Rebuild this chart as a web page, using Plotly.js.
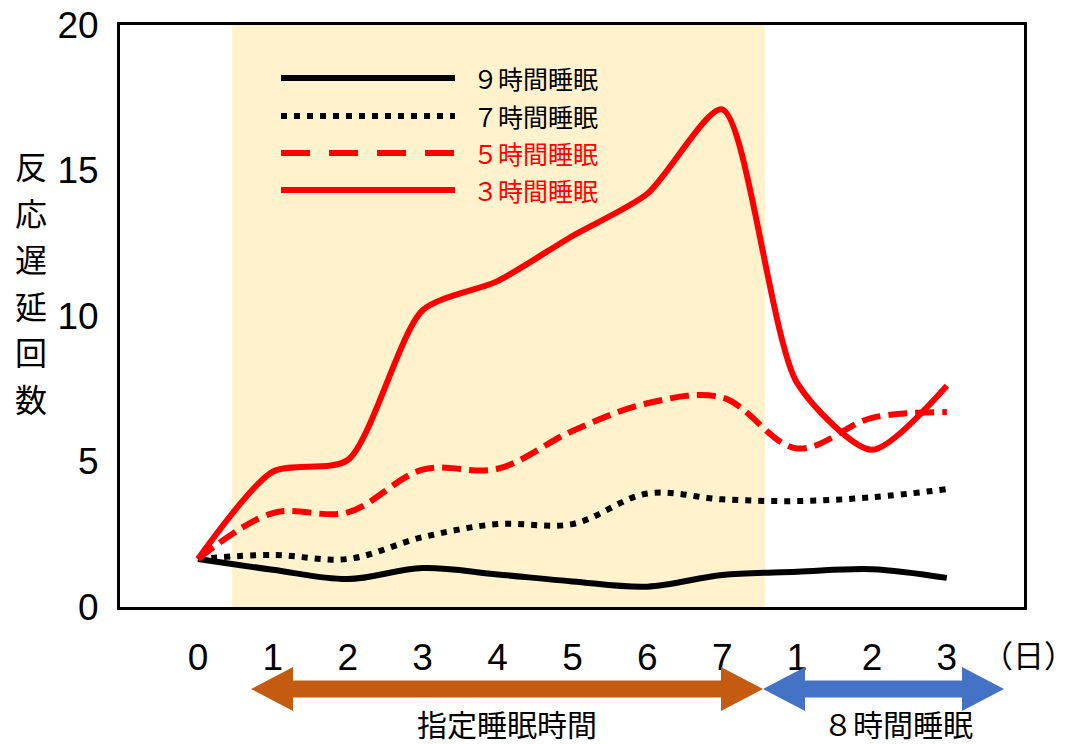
<!DOCTYPE html>
<html><head><meta charset="utf-8">
<script src="https://cdn.plot.ly/plotly-3.0.1.min.js"></script>
<style>body{margin:0;background:#fff}</style>
</head><body><div id="chart" style="width:1079px;height:744px"></div>
<script>
// ---- data ----
const days = [0, 1, 2, 3, 4, 5, 6, 7, 8, 9, 10];
const dayLabels = ['0', '1', '2', '3', '4', '5', '6', '7', '1', '2', '3'];
const sleep9h = [1.65, 1.28, 0.96, 1.34, 1.12, 0.88, 0.70, 1.10, 1.21, 1.30, 1.00];
const sleep7h = [1.65, 1.79, 1.65, 2.40, 2.85, 2.85, 3.90, 3.70, 3.64, 3.77, 4.05];
const sleep5h = [1.65, 3.23, 3.25, 4.72, 4.75, 6.05, 7.00, 7.20, 5.45, 6.50, 6.70];
const sleep3h = [1.65, 4.65, 5.05, 10.20, 11.20, 12.75, 14.20, 17.10, 7.70, 5.40, 7.60];
const seriesNames = ['９時間睡眠', '７時間睡眠', '５時間睡眠', '３時間睡眠'];
const yTicks = [0, 5, 10, 15, 20];
const yTitle = '反応遅延回数';
const unitLabel = '（日）';
const periodLabels = ['指定睡眠時間', '８時間睡眠'];
const restrictedPeriod = [0.454, 7.57];

// ---- layout helpers ----
const W = 1079, H = 744;
const M = {l: 120, r: 55, t: 25, b: 137};
const PW = W - M.l - M.r, PH = H - M.t - M.b;
const fx = p => (p - M.l) / PW;        // pixel x -> paper x
const fy = p => (H - M.b - p) / PH;    // pixel y -> paper y
const FONT = 'Liberation Sans, Arial, Noto Sans CJK JP, sans-serif';
const JFONT = 'Noto Sans CJK JP, Liberation Sans, sans-serif';

const styles = [
  {color: '#000000', dash: 'solid', legDash: 'solid', smooth: 1},
  {color: '#000000', dash: '6px,7px', legDash: '6px,7px', smooth: 1},
  {color: '#ff0000', dash: '19px,8px', legDash: '29px,19px', smooth: 1},
  {color: '#ff0000', dash: 'solid', legDash: 'solid', smooth: 0.7}
];
const seriesData = [sleep9h, sleep7h, sleep5h, sleep3h];

const traces = seriesData.map((ys, i) => ({
  x: days, y: ys, type: 'scatter', mode: 'lines', name: seriesNames[i],
  line: {color: styles[i].color, width: 6, dash: styles[i].dash, shape: 'spline', smoothing: styles[i].smooth},
  hoverinfo: 'skip', showlegend: false
}));

const shapes = [
  {type: 'rect', xref: 'x', yref: 'paper', x0: restrictedPeriod[0], x1: restrictedPeriod[1], y0: 0, y1: 1,
   fillcolor: '#fff2cc', line: {width: 0}, layer: 'below'}
];
const annotations = [];
function label(px, py, text, size, color, xanchor) {
  annotations.push({xref: 'paper', yref: 'paper', x: fx(px), y: fy(py), xanchor: xanchor || 'center', yanchor: 'middle',
    text: text, showarrow: false, font: {family: JFONT, size: size, color: color || '#000'}});
}

// manual legend
const legRows = [78, 116, 153, 190];
seriesNames.forEach((n, i) => {
  shapes.push({type: 'line', xref: 'paper', yref: 'paper', x0: fx(281), x1: fx(455), y0: fy(legRows[i]), y1: fy(legRows[i]),
    line: {color: styles[i].color, width: 6, dash: styles[i].legDash}});
  label(471, legRows[i], n, 25, styles[i].color, 'left');
});

// double arrows
function arrow(x1, x2, yc, color) {
  const hl = 42, hh = 22, sh = 8.5;
  const P = (x, y) => fx(x) + ',' + fy(y);
  const d = 'M' + P(x1, yc) + ' L' + P(x1 + hl, yc - hh) + ' L' + P(x1 + hl, yc - sh) + ' L' + P(x2 - hl, yc - sh) +
    ' L' + P(x2 - hl, yc - hh) + ' L' + P(x2, yc) + ' L' + P(x2 - hl, yc + hh) + ' L' + P(x2 - hl, yc + sh) +
    ' L' + P(x1 + hl, yc + sh) + ' L' + P(x1 + hl, yc + hh) + ' Z';
  shapes.push({type: 'path', xref: 'paper', yref: 'paper', path: d, fillcolor: color, line: {width: 0}});
}
arrow(251, 763, 689, '#c55a11');
arrow(763, 1004, 689, '#4472c4');

label(507, 723, periodLabels[0], 30);
label(898, 723, periodLabels[1], 30);
label(1077, 653, unitLabel, 31, '#000', 'right');
// vertical y-axis title, one character per row
yTitle.split('').forEach((ch, i) => label(31, 165 + i * 46.6, ch, 32));

const layout = {
  width: W, height: H, margin: M, paper_bgcolor: '#fff', plot_bgcolor: '#fff', showlegend: false,
  xaxis: {range: [-1.041, 11.03], tickvals: days, ticktext: dayLabels, showgrid: false, zeroline: false,
    showline: true, mirror: true, linecolor: '#000', linewidth: 3, ticks: '', ticklabelstandoff: 16,
    tickfont: {family: FONT, size: 37, color: '#000'}, fixedrange: true},
  yaxis: {range: [0, 20], tickvals: yTicks, showgrid: false, zeroline: false,
    showline: true, mirror: true, linecolor: '#000', linewidth: 3, ticks: '', ticklabelstandoff: 11,
    tickfont: {family: FONT, size: 37, color: '#000'}, fixedrange: true},
  shapes: shapes, annotations: annotations
};
Plotly.newPlot('chart', traces, layout, {displayModeBar: false, staticPlot: true});
</script></body></html>
